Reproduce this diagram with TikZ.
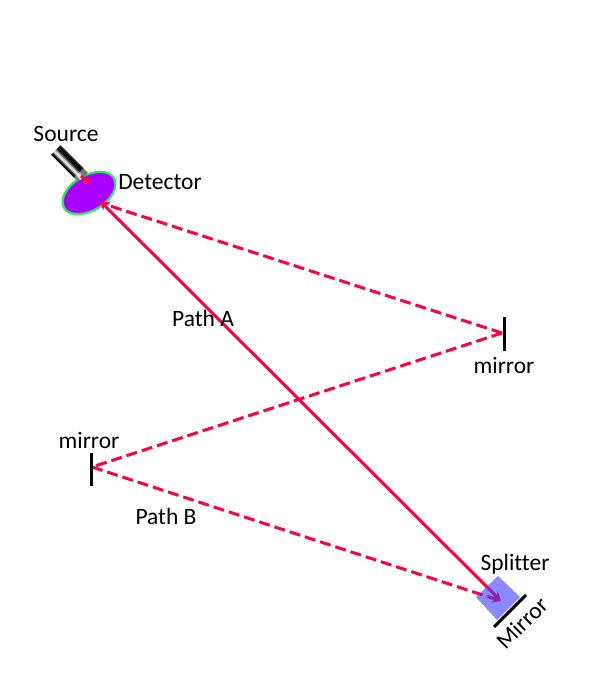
\documentclass[tikz,border=0pt]{standalone}
\usepackage{fontspec}
\setmainfont{Carlito}[Ligatures=NoCommon]
\usetikzlibrary{arrows.meta}
\definecolor{beam}{RGB}{255,0,64}
\definecolor{detfill}{RGB}{170,0,255}
\definecolor{detedge}{RGB}{40,235,90}
\definecolor{splfill}{RGB}{60,60,255}
\tikzset{
  lbl/.style={font=\fontsize{23.5}{28}\selectfont,text=black,inner sep=0pt},
  beamline/.style={draw=beam,line width=3pt},
  beamdash/.style={beamline,dash pattern=on 11pt off 5pt},
  tip/.style={-{Stealth[length=9pt,width=9pt]}},
  mirrorbar/.style={draw=black,line width=3pt},
}
\begin{document}
\begin{tikzpicture}[x=1pt,y=-1pt]
\useasboundingbox (0,0) rectangle (600,700);
\coordinate (detA) at (100,201);
\coordinate (detB) at (101,203);
\coordinate (mR) at (502,333);
\coordinate (mL) at (92,467);
\coordinate (spl) at (501,601);
\coordinate (srcEnd) at (81,176);
\coordinate (srcHit) at (91,184);
\coordinate (srcA) at (56,150);
\coordinate (srcB) at (83,177);
% detector
\fill[fill=detfill,draw=detedge,line width=2.2pt,rotate around={31:(89,193)}] (89,193) ellipse [x radius=29,y radius=17.5];
% source
\foreach \o/\c in {-5/70,-4/100,-3/100,-2/100,-1/85,0/55,1/20,2/5,3/30,4/80,5/95}{
  \draw[line width=1.6pt,black!\c] ([shift={({-\o*.85},{\o*.85})}]srcA) -- ([shift={({-\o*.85},{\o*.85})}]srcB);
}
\draw[white,opacity=.45,line width=14pt] (79,173) -- (srcB);
% beams
\draw[beamline,tip] (srcEnd) -- (srcHit);
\draw[beamline,{Stealth[length=9pt,width=9pt]}-{Stealth[length=9pt,width=9pt]}] (detA) -- (spl);
\draw[beamdash,tip] (mR) -- (detB);
\draw[beamdash] (mR) -- (mL);
\draw[beamdash,tip] (mL) -- (spl);
% splitter
\fill[fill=splfill,opacity=.6] (498,576) -- (520,597) -- (497,620) -- (476,597) -- cycle;
% mirrors
\coordinate (m1a) at (504,317); \coordinate (m1b) at (504,351);
\coordinate (m2a) at (91,453); \coordinate (m2b) at (91,486);
\coordinate (m3a) at (526,595); \coordinate (m3b) at (494,627);
\draw[mirrorbar] (m1a) -- (m1b);
\draw[mirrorbar] (m2a) -- (m2b);
\draw[mirrorbar] (m3a) -- (m3b);
% labels
\node[lbl] (lsource) at (66,134) {Source};
\node[lbl] (ldet) at (160,182) {Detector};
\node[lbl] (lpa) at (203,318) {Path A};
\node[lbl] (lm1) at (504,365) {mirror};
\node[lbl] (lm2) at (89,440) {mirror};
\node[lbl] (lpb) at (166,516) {Path B};
\node[lbl] (lspl) at (515,564) {Splitter};
\node[lbl,rotate=45] (lmir) at (522,623) {Mirror};
\end{tikzpicture}
\end{document}
